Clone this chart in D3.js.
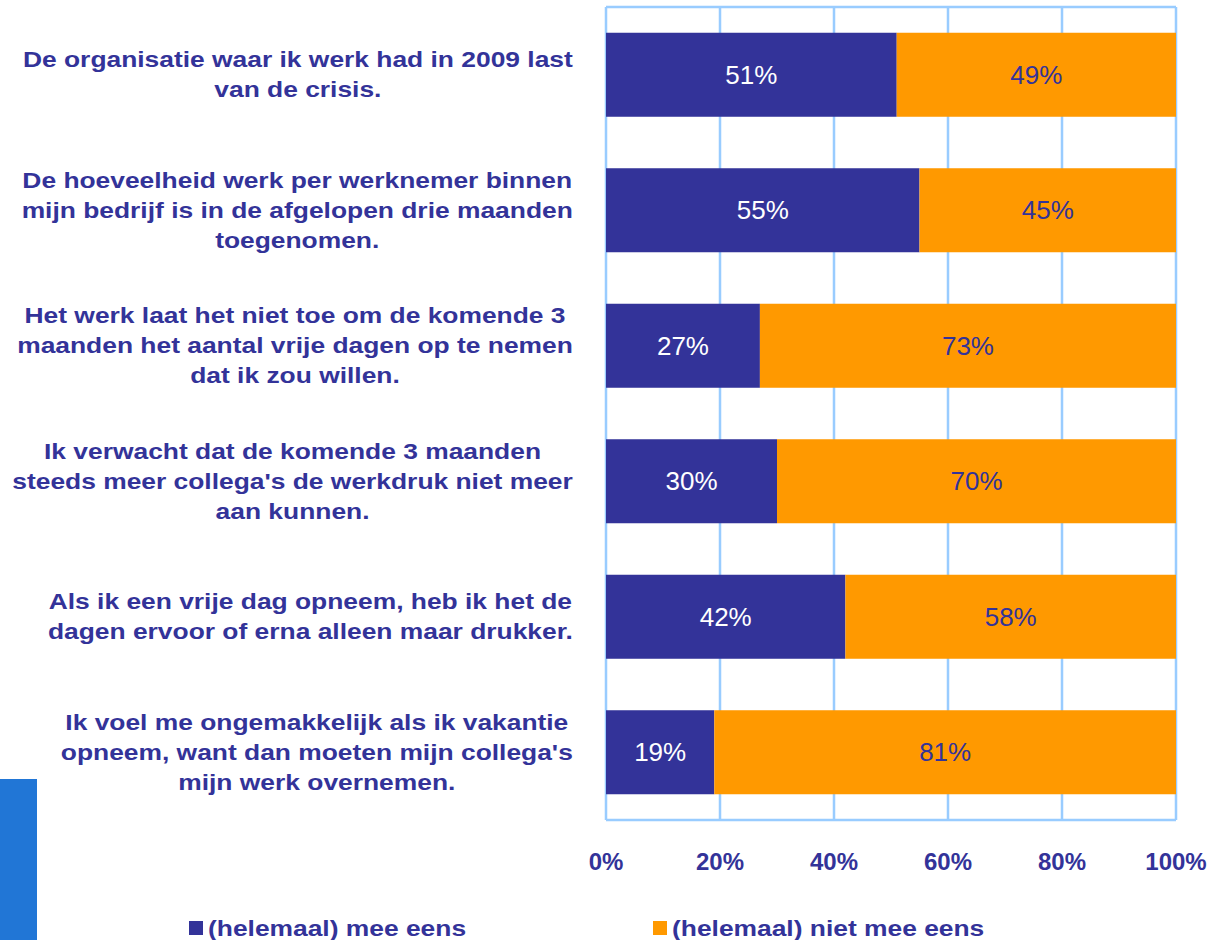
<!DOCTYPE html>
<html>
<head>
<meta charset="utf-8">
<script src="https://cdn.jsdelivr.net/npm/d3@7"></script>
<style>
  body { margin: 0; background: #fff; }
  svg { display: block; font-family: Arial, "Liberation Sans", sans-serif; }
</style>
</head>
<body>
<svg></svg>
<script>
const width = 1211, height = 940;

// statements, each split in the lines shown
const categories = [
    ["De organisatie waar ik werk had in 2009 last", "van de crisis."],
    ["De hoeveelheid werk per werknemer binnen", "mijn bedrijf is in de afgelopen drie maanden", "toegenomen."],
    ["Het werk laat het niet toe om de komende 3 ", "maanden het aantal vrije dagen op te nemen", "dat ik zou willen."],
    ["Ik verwacht dat de komende 3 maanden", "steeds meer collega's de werkdruk niet meer", "aan kunnen."],
    ["Als ik een vrije dag opneem, heb ik het de", "dagen ervoor of erna alleen maar drukker."],
    ["Ik voel me ongemakkelijk als ik vakantie", "opneem, want dan moeten mijn collega's", "mijn werk overnemen."]
];
const eens = [51, 55, 27, 30, 42, 19];
const nietEens = [49, 45, 73, 70, 58, 81];
const seriesNames = ["(helemaal) mee eens", "(helemaal) niet mee eens"];
const tickValues = [0, 20, 40, 60, 80, 100];

const navy = "#333399", orange = "#FF9900", grid = "#99CCFF";
const stretch = 1.2; // text in the original is widened horizontally

const svg = d3.select("svg").attr("width", width).attr("height", height);

const x = d3.scaleLinear().domain([0, 100]).range([606, 1176]);
const y = d3.scaleBand().domain(d3.range(categories.length))
    .range([7, 820]).paddingInner(0.38).paddingOuter(0.19);

// blue block bottom left
svg.append("rect").attr("x", 0).attr("y", 779).attr("width", 37).attr("height", 161)
    .attr("fill", "#2176d6");

// gridlines and frame
svg.append("g").selectAll("line").data(tickValues).enter().append("line")
    .attr("x1", d => x(d)).attr("x2", d => x(d))
    .attr("y1", y.range()[0]).attr("y2", y.range()[1])
    .attr("stroke", grid).attr("stroke-width", 2.5);
[y.range()[0], y.range()[1]].forEach(v => {
    svg.append("line").attr("x1", x(0)).attr("x2", x(100)).attr("y1", v).attr("y2", v)
        .attr("stroke", grid).attr("stroke-width", 2.5);
});

// stacked bars
const rows = categories.map((c, i) => ({ i: i, a: eens[i], b: nietEens[i] }));
const bar = svg.append("g").selectAll("g").data(rows).enter().append("g");

bar.append("rect")
    .attr("x", x(0)).attr("y", d => y(d.i))
    .attr("width", d => x(d.a) - x(0)).attr("height", y.bandwidth())
    .attr("fill", navy);
bar.append("rect")
    .attr("x", d => x(d.a)).attr("y", d => y(d.i))
    .attr("width", d => x(d.a + d.b) - x(d.a)).attr("height", y.bandwidth())
    .attr("fill", orange);

bar.append("text")
    .attr("x", d => x(d.a / 2)).attr("y", d => y(d.i) + y.bandwidth() / 2)
    .attr("dy", "0.35em").attr("text-anchor", "middle")
    .attr("font-size", 26).attr("fill", "#fff")
    .text(d => d.a + "%");
bar.append("text")
    .attr("x", d => x(d.a + d.b / 2)).attr("y", d => y(d.i) + y.bandwidth() / 2)
    .attr("dy", "0.35em").attr("text-anchor", "middle")
    .attr("font-size", 26).attr("fill", navy)
    .text(d => d.b + "%");

// category labels: centred block, right edge near the plot
const labelRight = 573, lineH = 30;
categories.forEach((lines, i) => {
    const cy = y(i) + y.bandwidth() / 2;
    const g = svg.append("g");
    const texts = lines.map((l, k) => g.append("text")
        .attr("y", cy + (k - (lines.length - 1) / 2) * lineH)
        .attr("dy", "0.35em").attr("text-anchor", "middle")
        .attr("font-size", 22).attr("font-weight", "bold").attr("fill", navy)
        .text(l));
    const maxW = d3.max(texts, t => t.node().getComputedTextLength()) * stretch;
    g.attr("transform", `translate(${labelRight - maxW / 2},0) scale(${stretch},1)`);
});

// x axis labels
svg.append("g").selectAll("text").data(tickValues).enter().append("text")
    .attr("x", d => x(d)).attr("y", 862).attr("dy", "0.35em")
    .attr("text-anchor", "middle")
    .attr("font-size", 24).attr("font-weight", "bold").attr("fill", navy)
    .text(d => d + "%");

// legend
const legendX = [189, 653];
const leg = svg.append("g").selectAll("g").data(seriesNames).enter().append("g")
    .attr("transform", (d, i) => `translate(${legendX[i]},921)`);
leg.append("rect").attr("width", 14).attr("height", 14)
    .attr("fill", (d, i) => i === 0 ? navy : orange);
leg.append("text").attr("transform", `translate(19,7) scale(${stretch},1)`)
    .attr("dy", "0.35em")
    .attr("font-size", 22).attr("font-weight", "bold").attr("fill", navy)
    .text(d => d);
</script>
</body>
</html>
